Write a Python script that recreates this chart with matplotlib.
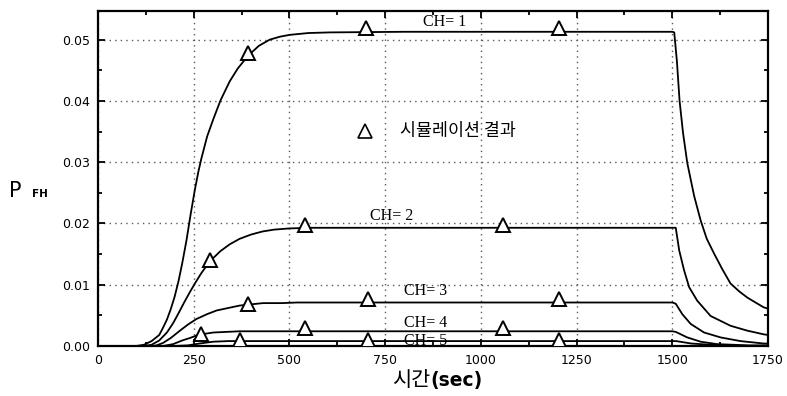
import matplotlib
matplotlib.use("Agg")
import matplotlib.pyplot as plt
from matplotlib.ticker import MultipleLocator, FormatStrFormatter

# ---- data ----
t_ch1 = [0, 100, 120, 140, 160, 170, 180, 190, 200, 210, 220, 231, 242, 253, 262, 270,
         285, 301, 320, 344, 365, 392, 420, 448, 475, 501, 550, 605, 800, 1500,
         1505, 1512, 1519, 1528, 1539, 1557, 1574, 1590, 1609, 1630, 1652, 1675,
         1696, 1720, 1739, 1750]
v_ch1 = [0, 0, 0.0002, 0.0008, 0.0018, 0.0030, 0.0043, 0.0060, 0.0080, 0.0105, 0.0135,
         0.0172, 0.0215, 0.0255, 0.0284, 0.0306, 0.0342, 0.0370, 0.0401, 0.0432, 0.0453,
         0.0474, 0.0490, 0.0500, 0.0505, 0.0508, 0.0511, 0.0512, 0.0513, 0.0513,
         0.0512, 0.0465, 0.0400, 0.0348, 0.0299, 0.0245, 0.0205, 0.0175, 0.0151,
         0.0126, 0.0102, 0.0089, 0.0079, 0.0070, 0.0063, 0.0061]

t_ch2 = [0, 120, 140, 160, 180, 196, 210, 225, 240, 255, 270, 285, 300, 320, 344, 370,
         400, 430, 460, 501, 560, 1500, 1509, 1518, 1531, 1544, 1565, 1600, 1652, 1696,
         1739, 1750]
v_ch2 = [0, 0, 0.0002, 0.0009, 0.0022, 0.0037, 0.0053, 0.0071, 0.0088, 0.0104, 0.0119,
         0.0132, 0.0143, 0.0155, 0.0166, 0.0175, 0.0182, 0.0187, 0.0190, 0.0192, 0.0193,
         0.0193, 0.0193, 0.0156, 0.0123, 0.0096, 0.0074, 0.0049, 0.0033, 0.0025, 0.0019,
         0.0018]

t_ch3 = [0, 140, 153, 170, 190, 214, 235, 257, 285, 310, 340, 370, 400, 431, 480, 520,
         1500, 1509, 1526, 1548, 1583, 1626, 1678, 1739, 1750]
v_ch3 = [0, 0, 0.0001, 0.0005, 0.0013, 0.0025, 0.0035, 0.0044, 0.0052, 0.0058, 0.0062,
         0.0066, 0.0068, 0.0070, 0.0070, 0.0071, 0.0071, 0.0069, 0.0052, 0.0036, 0.0022,
         0.0014, 0.0008, 0.0004, 0.0004]

t_ch4 = [0, 170, 196, 220, 240, 257, 280, 301, 335, 370, 1500, 1509, 1539, 1574, 1617,
         1700, 1750]
v_ch4 = [0, 0, 0.0003, 0.0009, 0.0013, 0.0017, 0.0020, 0.0022, 0.0023, 0.0024, 0.0024,
         0.0023, 0.0014, 0.0007, 0.0003, 0.0001, 0.0001]

t_ch5 = [0, 200, 235, 265, 301, 340, 370, 1500, 1510, 1530, 1550, 1600, 1650, 1700, 1750]
v_ch5 = [0, 0, 0.0001, 0.0004, 0.0007, 0.0008, 0.0008, 0.0008, 0.0008, 0.0006, 0.0004,
         0.0002, 0.0001, 0.0, 0.0]

# simulation result markers
sim_t1 = [392, 700, 1205]
sim_v1 = [0.0478, 0.0519, 0.0519]
sim_t2 = [292, 540, 1057]
sim_v2 = [0.0140, 0.0198, 0.0198]
sim_t3 = [392, 705, 1205]
sim_v3 = [0.0069, 0.0076, 0.0076]
sim_t4 = [270, 540, 1057]
sim_v4 = [0.0020, 0.0030, 0.0030]
sim_t5 = [370, 705, 1205]
sim_v5 = [0.0010, 0.0010, 0.0010]

ch_labels = ["CH= 1", "CH= 2", "CH= 3", "CH= 4", "CH= 5"]
label_t = [905, 767, 855, 855, 855]
label_v = [0.0529, 0.0213, 0.0089, 0.0037, 0.0008]

legend_label = "시뮬레이션 결과"

x_ticks = [0, 250, 500, 750, 1000, 1250, 1500, 1750]
y_ticks = [0.00, 0.01, 0.02, 0.03, 0.04, 0.05]

# ---- figure ----
fig = plt.figure(figsize=(7.87, 3.96), dpi=100)
ax = fig.add_axes([0.1245, 0.1263, 0.8514, 0.846])

curves = [(t_ch1, v_ch1), (t_ch2, v_ch2), (t_ch3, v_ch3), (t_ch4, v_ch4), (t_ch5, v_ch5)]
for t, v in curves:
    ax.plot(t, v, color="black", lw=1.3, zorder=3, solid_joinstyle="round")

sims = [(sim_t1, sim_v1), (sim_t2, sim_v2), (sim_t3, sim_v3), (sim_t4, sim_v4), (sim_t5, sim_v5)]
for t, v in sims:
    ax.plot(t, v, ls="none", marker="^", ms=10, mfc="white", mec="black", mew=1.4, zorder=4)

for lab, t, v in zip(ch_labels, label_t, label_v):
    ax.text(t, v, lab, ha="center", va="center", fontsize=11.5,
            family="Liberation Serif", color="black", zorder=5)

ax.set_xlim(0, 1750)
ax.set_ylim(0, 0.0547)
ax.set_xticks(x_ticks)
ax.set_yticks(y_ticks)
ax.xaxis.set_minor_locator(MultipleLocator(125))
ax.yaxis.set_minor_locator(MultipleLocator(0.005))
ax.yaxis.set_major_formatter(FormatStrFormatter("%.2f"))
ax.tick_params(which="both", direction="in", top=True, right=True, width=1.3)
ax.tick_params(which="major", length=5, labelsize=9, pad=6)
ax.tick_params(which="minor", length=3)
for lbl in ax.get_xticklabels() + ax.get_yticklabels():
    lbl.set_family("DejaVu Sans")

ax.grid(True, which="major", color="0.35", linestyle=(0, (1, 3)), lw=1.0)
for s in ax.spines.values():
    s.set_linewidth(1.6)

# legend (marker + label)
ax.plot([0.398], [0.642], transform=ax.transAxes, ls="none", marker="^", ms=10,
        mfc="white", mec="black", mew=1.2, clip_on=False, zorder=5)
ax.text(0.451, 0.642, legend_label, transform=ax.transAxes, ha="left", va="center",
        fontsize=12.5, family=["Noto Sans CJK KR", "DejaVu Sans"], zorder=5)

# axis labels
fig.text(0.012, 0.503, "P", fontsize=15, family="DejaVu Sans", ha="left", va="baseline")
fig.text(0.041, 0.503, "FH", fontsize=7.5, family="DejaVu Sans", weight="bold",
         ha="left", va="baseline")
fig.text(0.547, 0.025, "시간", fontsize=15, family=["Noto Sans CJK KR", "DejaVu Sans"],
         ha="right", va="baseline")
fig.text(0.547, 0.025, "(sec)", fontsize=13.5, family="DejaVu Sans", weight="bold",
         ha="left", va="baseline")

fig.savefig("out.png", dpi=100)
